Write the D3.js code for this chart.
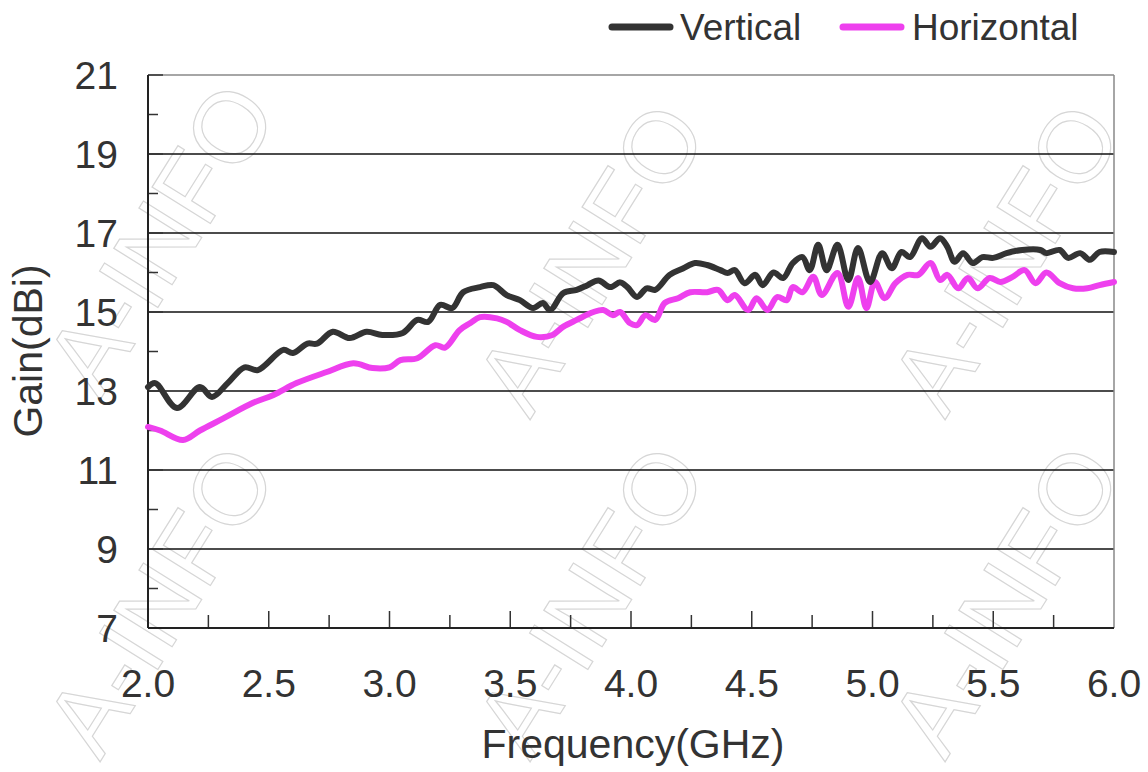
<!DOCTYPE html>
<html><head><meta charset="utf-8">
<script src="https://cdn.jsdelivr.net/npm/d3@7/dist/d3.min.js"></script>
<style>html,body{margin:0;padding:0;background:#fff;}svg{display:block;}</style>
</head><body><svg id="c" width="1148" height="772"></svg>
<script>
const vFreq = [2.0,2.03,2.12,2.215,2.265,2.33,2.40,2.455,2.56,2.60,2.66,2.70,2.765,2.835,2.905,2.97,3.055,3.115,3.16,3.21,3.26,3.305,3.375,3.43,3.485,3.54,3.595,3.635,3.665,3.72,3.775,3.82,3.865,3.915,3.955,3.985,4.025,4.065,4.10,4.16,4.215,4.265,4.315,4.37,4.40,4.43,4.47,4.515,4.545,4.59,4.63,4.67,4.71,4.74,4.775,4.81,4.855,4.90,4.94,4.99,5.04,5.08,5.12,5.155,5.205,5.24,5.28,5.31,5.34,5.375,5.415,5.455,5.50,5.555,5.62,5.695,5.72,5.775,5.81,5.86,5.90,5.94,6.0];
const vGain = [13.1,13.2,12.57,13.1,12.85,13.2,13.6,13.53,14.04,13.96,14.2,14.2,14.5,14.34,14.5,14.42,14.47,14.8,14.75,15.18,15.1,15.5,15.63,15.68,15.43,15.3,15.1,15.23,15.05,15.48,15.56,15.68,15.8,15.63,15.75,15.63,15.38,15.6,15.56,15.94,16.1,16.24,16.19,16.06,15.99,16.06,15.73,15.94,15.68,16.0,15.86,16.24,16.39,16.06,16.7,16.06,16.7,15.81,16.62,15.76,16.49,16.11,16.52,16.39,16.87,16.65,16.87,16.65,16.27,16.49,16.24,16.39,16.37,16.49,16.57,16.57,16.49,16.57,16.37,16.49,16.32,16.52,16.52];
const hFreq = [2.0,2.05,2.145,2.215,2.31,2.435,2.52,2.615,2.74,2.85,2.93,3.0,3.045,3.115,3.19,3.23,3.29,3.335,3.375,3.445,3.485,3.54,3.61,3.675,3.72,3.775,3.845,3.885,3.925,3.955,3.995,4.025,4.06,4.10,4.14,4.195,4.245,4.315,4.36,4.40,4.43,4.485,4.52,4.565,4.605,4.645,4.67,4.71,4.755,4.79,4.855,4.90,4.94,4.975,5.01,5.05,5.095,5.145,5.19,5.24,5.28,5.31,5.355,5.395,5.435,5.485,5.53,5.58,5.63,5.675,5.72,5.775,5.83,5.89,5.94,6.0];
const hGain = [12.09,12.0,11.76,12.0,12.3,12.7,12.9,13.2,13.48,13.7,13.58,13.6,13.78,13.83,14.16,14.1,14.54,14.72,14.87,14.84,14.75,14.54,14.37,14.42,14.63,14.8,15.0,15.05,14.92,15.0,14.72,14.67,14.92,14.8,15.23,15.35,15.5,15.5,15.56,15.3,15.43,15.05,15.35,15.05,15.38,15.3,15.63,15.5,15.89,15.43,15.99,15.13,15.86,15.1,15.76,15.35,15.73,15.94,15.94,16.24,15.81,15.94,15.6,15.86,15.6,15.86,15.76,15.89,16.06,15.73,16.0,15.73,15.6,15.6,15.68,15.76];
const xTicks = [2.0,2.5,3.0,3.5,4.0,4.5,5.0,5.5,6.0];
const yTicks = [7,9,11,13,15,17,19,21];
const seriesNames = ["Vertical","Horizontal"];
const seriesColors = ["#333333","#ee40ee"];
const watermarkText = "A-INFO";

const svg = d3.select("#c");
const FONT = "'Liberation Sans', Arial, sans-serif";
const L = 148, R = 1114, T = 75, B = 628;
const x = d3.scaleLinear().domain([2,6]).range([L,R]);
const y = d3.scaleLinear().domain([7,21]).range([B,T]);

// watermark (kept inside the picture)
const wm = svg.append("g").attr("fill","none").attr("stroke","#d6d6d6").attr("stroke-width",1.2)
  .attr("font-family",FONT).attr("font-size",100);
const wmPos = [[100,400],[530,420],[945,420],[100,762],[530,762],[945,762]];
wmPos.forEach(p=>{
  wm.append("text").attr("transform",`translate(${p[0]},${p[1]}) rotate(-58)`).text(watermarkText);
});

// gridlines
svg.append("g").selectAll("line").data(yTicks.filter(v=>v>7&&v<21)).join("line")
  .attr("x1",L).attr("x2",R).attr("y1",d=>y(d)).attr("y2",d=>y(d))
  .attr("stroke","#111").attr("stroke-width",1.5);
// top/right border
svg.append("line").attr("x1",L).attr("x2",R).attr("y1",y(21)).attr("y2",y(21)).attr("stroke","#888").attr("stroke-width",1.5);
svg.append("line").attr("x1",R).attr("x2",R).attr("y1",T).attr("y2",B).attr("stroke","#888").attr("stroke-width",1.5);

// y minor ticks
svg.append("g").selectAll("line").data(d3.range(8,22,1)).join("line")
  .attr("x1",L).attr("x2",d=>L+ (d%2===0?10:15)).attr("y1",d=>y(d)).attr("y2",d=>y(d))
  .attr("stroke","#333").attr("stroke-width",1.5);
// x ticks
svg.append("g").selectAll("line").data(d3.range(2.25,6.0,0.25)).join("line")
  .attr("x1",d=>x(d)).attr("x2",d=>x(d)).attr("y1",B).attr("y2",(d,i)=>B-(i%2===1?17:13))
  .attr("stroke","#333").attr("stroke-width",1.5);

// axes lines
svg.append("line").attr("x1",L).attr("x2",L).attr("y1",T).attr("y2",B).attr("stroke","#222").attr("stroke-width",2);
svg.append("line").attr("x1",L).attr("x2",R).attr("y1",B).attr("y2",B).attr("stroke","#222").attr("stroke-width",2);

// tick labels
svg.append("g").selectAll("text").data(yTicks).join("text")
  .attr("x",118).attr("y",d=>y(d)+14).attr("text-anchor","end")
  .attr("font-family",FONT).attr("font-size",39).attr("fill","#333").text(d=>d);
svg.append("g").selectAll("text").data(xTicks).join("text")
  .attr("x",d=>x(d)).attr("y",697).attr("text-anchor","middle")
  .attr("font-family",FONT).attr("font-size",39).attr("fill","#333").text(d=>d.toFixed(1));

// axis titles
svg.append("text").attr("x",633).attr("y",758).attr("text-anchor","middle")
  .attr("font-family",FONT).attr("font-size",41).attr("fill","#333").text("Frequency(GHz)");
svg.append("text").attr("transform","translate(42,351) rotate(-90)").attr("text-anchor","middle")
  .attr("font-family",FONT).attr("font-size",41).attr("fill","#333").text("Gain(dBi)");

// lines
const line = d3.line().x(d=>x(d[0])).y(d=>y(d[1])).curve(d3.curveCatmullRom.alpha(0.5));
const hData = hFreq.map((f,i)=>[f,hGain[i]]);
const vData = vFreq.map((f,i)=>[f,vGain[i]]);
svg.append("path").datum(hData).attr("d",line).attr("fill","none").attr("stroke",seriesColors[1])
  .attr("stroke-width",6).attr("stroke-linejoin","round").attr("stroke-linecap","round");
svg.append("path").datum(vData).attr("d",line).attr("fill","none").attr("stroke",seriesColors[0])
  .attr("stroke-width",6).attr("stroke-linejoin","round").attr("stroke-linecap","round");

// legend
const legX = [612,843], legTX = [680,912];
seriesNames.forEach((n,i)=>{
  svg.append("line").attr("x1",legX[i]).attr("x2",legX[i]+58).attr("y1",27).attr("y2",27)
    .attr("stroke",seriesColors[i]).attr("stroke-width",7).attr("stroke-linecap","round");
  svg.append("text").attr("x",legTX[i]).attr("y",40).attr("font-family",FONT).attr("font-size",37)
    .attr("fill","#333").text(n);
});
</script></body></html>
